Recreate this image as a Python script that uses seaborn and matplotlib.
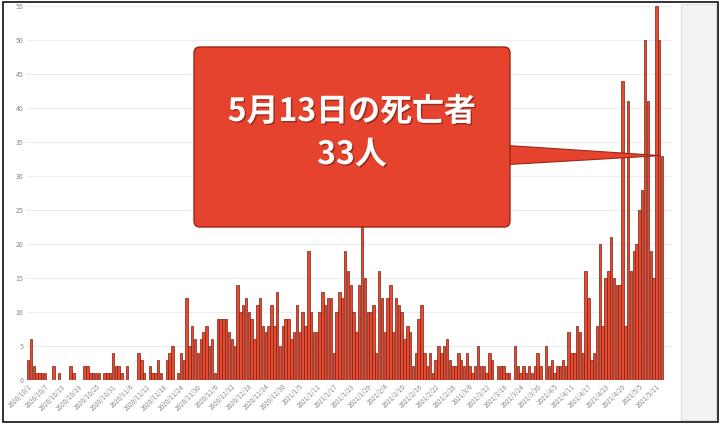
import pandas as pd
import seaborn as sns
import matplotlib.pyplot as plt
from matplotlib.patches import FancyBboxPatch, Polygon, Rectangle
import matplotlib.patheffects as pe

# daily deaths
oct_2020 = [3, 6, 2, 1, 1, 1, 1, 0, 0, 2, 0, 1, 0, 0, 0, 2, 1, 0, 0, 0,
            2, 2, 1, 1, 1, 1, 0, 1, 1, 1, 4]
nov_2020 = [2, 2, 1, 0, 2, 0, 0, 0, 4, 3, 1, 0, 2, 1, 1, 3, 1, 0, 3, 4,
            5, 0, 1, 4, 3, 12, 5, 8, 6, 4]
dec_2020 = [6, 7, 8, 5, 6, 1, 9, 9, 9, 9, 7, 6, 5, 14, 10, 11, 12, 10, 9, 6,
            11, 12, 8, 7, 8, 11, 8, 13, 5, 8, 9]
jan_2021 = [9, 6, 7, 11, 7, 10, 8, 19, 10, 7, 7, 10, 13, 11, 12, 12, 4, 10, 13, 12,
            19, 16, 14, 10, 7, 14, 24, 15, 10, 10, 11]
feb_2021 = [4, 16, 12, 7, 12, 14, 7, 12, 11, 10, 6, 8, 7, 2, 4, 9, 11, 4, 2, 4,
            1, 3, 5, 4, 5, 6, 3, 2]
mar_2021 = [2, 4, 3, 2, 4, 2, 1, 2, 5, 2, 2, 1, 4, 3, 0, 2, 2, 2, 1, 1,
            0, 5, 2, 1, 2, 1, 2, 1, 2, 4, 2]
apr_2021 = [0, 5, 2, 3, 1, 2, 2, 3, 2, 7, 4, 4, 8, 7, 4, 16, 12, 3, 4, 8,
            20, 8, 15, 16, 21, 15, 14, 14, 44, 8]
may_2021 = [41, 16, 19, 20, 25, 28, 50, 41, 19, 15, 55, 50, 33]

deaths = oct_2020 + nov_2020 + dec_2020 + jan_2021 + feb_2021 + mar_2021 + apr_2021 + may_2021
dates = pd.date_range('2020-10-01', '2021-05-13', freq='D')
date_labels = [f'{d.year}/{d.month}/{d.day}' for d in dates]
y_ticks = list(range(0, 56, 5))
callout_lines = ['5月13日の死亡者', '33人']

df = pd.DataFrame({'date': date_labels, 'deaths': deaths})

sns.set_theme(style='white')
plt.rcParams['font.family'] = ['Noto Sans CJK JP', 'DejaVu Sans']

fig = plt.figure(figsize=(7.2, 4.24), dpi=100)
fig.patch.set_facecolor('white')
ax = fig.add_axes([26 / 720, 44 / 424, 646 / 720, 374 / 424])

sns.barplot(data=df, x='date', y='deaths', color='#e64a30', saturation=1,
            width=0.85, edgecolor='#7d1f12', linewidth=0.5, ax=ax)

ax.set_xlim(-0.74, 227.5)
ax.set_ylim(0, 55)
ax.set_xlabel('')
ax.set_ylabel('')
ax.set_yticks(y_ticks)
ax.set_yticklabels([str(v) for v in y_ticks], fontsize=5, color='#8a8a8a')
ax.set_xticks(range(0, len(date_labels), 6))
ax.set_xticklabels(date_labels[::6], rotation=45, ha='right', rotation_mode='anchor',
                   fontsize=4.6, color='#8a8a8a')
ax.tick_params(axis='both', length=0, pad=2)
ax.yaxis.grid(True, color='#ededed', linewidth=0.8)
ax.xaxis.grid(False)
ax.set_axisbelow(True)
for s in ax.spines.values():
    s.set_visible(False)

# screenshot frame and grey side panel
fig.patches.append(Rectangle((681 / 720, 4 / 424), 35 / 720, 416 / 424, transform=fig.transFigure,
                             facecolor='#f3f3f3', edgecolor='#dddddd', linewidth=0.8))
fig.patches.append(Rectangle((3 / 720, 2 / 424), 715 / 720, 420 / 424, transform=fig.transFigure,
                             fill=False, edgecolor='#222222', linewidth=1.3))

# callout box with pointer to the last bar
tr = fig.dpi_scale_trans
tip = ax.transData.transform((len(deaths) - 1.4, may_2021[-1])) / fig.dpi
pointer = Polygon([(5.0, 2.59), (5.0, 2.79), (tip[0], tip[1])], closed=True, transform=tr,
                  facecolor='#e5432d', edgecolor='#9c2718', linewidth=0.8, zorder=5)
fig.patches.append(pointer)
box = FancyBboxPatch((1.94, 1.97), 3.16, 1.80, boxstyle='round,pad=0,rounding_size=0.06',
                     transform=tr, facecolor='#e5432d', edgecolor='#9c2718', linewidth=1.0, zorder=6)
fig.patches.append(box)

shadow = [pe.withSimplePatchShadow(offset=(1, -1), shadow_rgbFace='#6b1a10', alpha=0.6)]
fig.text(3.52, 4.24 - 1.12, callout_lines[0], transform=tr, ha='center', va='center',
         fontsize=23, fontweight='bold', color='white', path_effects=shadow, zorder=7)
fig.text(3.52, 4.24 - 1.55, callout_lines[1], transform=tr, ha='center', va='center',
         fontsize=23, fontweight='bold', color='white', path_effects=shadow, zorder=7)

plt.savefig('out.png', dpi=100)
plt.close()
